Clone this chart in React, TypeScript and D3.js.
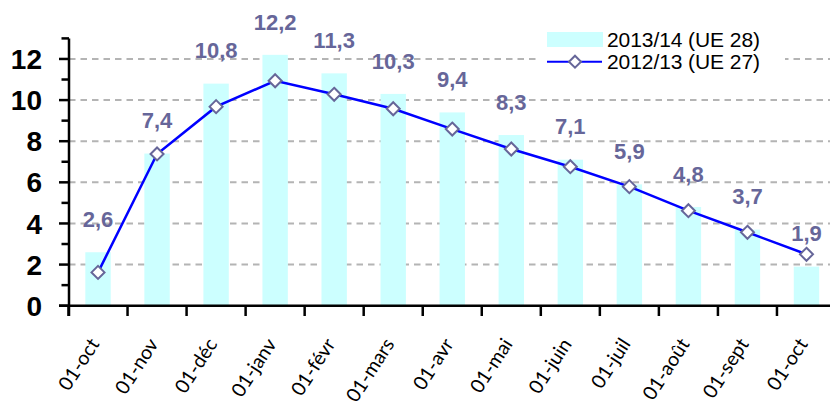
import * as d3 from 'd3';

const W = 830;
const H = 405;

const months = ['01-oct', '01-nov', '01-déc', '01-janv', '01-févr', '01-mars', '01-avr', '01-mai', '01-juin', '01-juil', '01-août', '01-sept', '01-oct'];
const season1314 = [2.6, 7.4, 10.8, 12.2, 11.3, 10.3, 9.4, 8.3, 7.1, 5.9, 4.8, 3.7, 1.9];
const season1213 = [1.62, 7.38, 9.68, 10.94, 10.28, 9.58, 8.59, 7.62, 6.76, 5.79, 4.62, 3.57, 2.5];
const yTicks = [0, 2, 4, 6, 8, 10, 12];
const yMinor = [1, 3, 5, 7, 9, 11, 13];
const seriesNames = ['2013/14 (UE 28)', '2012/13 (UE 27)'];

const BAR = '#ccffff';
const LINE = '#0000ff';
const MARK = '#666699';
const GRID = '#b4b4b4';
const FONT = 'Arial, "Liberation Sans", sans-serif';

const diamond = (cx: number, cy: number, r: number) =>
  `M${cx},${cy - r}L${cx + r},${cy}L${cx},${cy + r}L${cx - r},${cy}Z`;

export default function App() {
  const idx = months.map((_, i) => i);
  const x = d3.scaleBand<number>().domain(idx).range([68.5, 836]).padding(0);
  const y = d3.scaleLinear().domain([0, 13]).range([305.7, 38.4]);
  const cx = (i: number) => (x(i) as number) + x.bandwidth() / 2;
  const barW = x.bandwidth() * 0.43;

  const line = d3.line<number>()
    .x((_, i) => cx(i))
    .y(d => y(d));

  const fmt = (v: number) => v.toFixed(1).replace('.', ',');

  return (
    <div style={{ position: 'fixed', left: 0, top: 0 }}>
      <svg width={W} height={H} style={{ display: 'block', background: '#fff' }}>
        {/* gridlines */}
        {yTicks.filter(t => t > 0).map(t => (
          <line key={'g' + t} x1={69} x2={W} y1={y(t)} y2={y(t)}
            stroke={GRID} strokeWidth={2} strokeDasharray="6.5,5" />
        ))}

        {/* bars */}
        {season1314.map((v, i) => (
          <rect key={'b' + i} x={cx(i) - barW / 2} y={y(v)} width={barW}
            height={y(0) - y(v)} fill={BAR} />
        ))}

        {/* legend box */}
        <rect x={540} y={25} width={245} height={50} fill="#fff" />
        <rect x={547} y={32} width={56} height={15} fill={BAR} />
        <text x={607} y={39.5} dy="0.35em" fontFamily={FONT} fontSize={21}
          textLength={153} lengthAdjust="spacing">{seriesNames[0]}</text>
        <line x1={547} x2={602} y1={61.7} y2={61.7} stroke={LINE} strokeWidth={2} />
        <path d={diamond(575, 61.7, 6)} fill="#fff" stroke={MARK} strokeWidth={2} />
        <text x={607} y={61.7} dy="0.35em" fontFamily={FONT} fontSize={21}
          textLength={153} lengthAdjust="spacing">{seriesNames[1]}</text>

        {/* line series */}
        <path d={line(season1213) || ''} fill="none" stroke={LINE} strokeWidth={2.5} />
        {season1213.map((v, i) => (
          <path key={'m' + i} d={diamond(cx(i), y(v), 6.5)} fill="#fff" stroke={MARK} strokeWidth={2} />
        ))}

        {/* value labels */}
        {season1314.map((v, i) => (
          <text key={'v' + i} x={cx(i)} y={y(v) - 33} dy="0.35em" textAnchor="middle"
            fontFamily={FONT} fontWeight="bold" fontSize={22} fill={MARK}>{fmt(v)}</text>
        ))}

        {/* y axis */}
        <line x1={69} x2={69} y1={y(13)} y2={316} stroke="#000" strokeWidth={2.5} />
        {yTicks.map(t => (
          <g key={'y' + t}>
            <line x1={59} x2={69} y1={y(t)} y2={y(t)} stroke="#000" strokeWidth={2.5} />
            <text x={42} y={y(t)} dy="0.36em" textAnchor="end" fontFamily={FONT}
              fontWeight="bold" fontSize={28}>{t}</text>
          </g>
        ))}
        {yMinor.map(t => (
          <line key={'ym' + t} x1={61.5} x2={69} y1={y(t)} y2={y(t)} stroke="#000" strokeWidth={2.5} />
        ))}

        {/* x axis */}
        <line x1={59} x2={W} y1={y(0)} y2={y(0)} stroke="#000" strokeWidth={2.5} />
        {idx.map(i => (
          <line key={'xt' + i} x1={x(i) as number} x2={x(i) as number} y1={y(0)} y2={316}
            stroke="#000" strokeWidth={2.5} />
        ))}
        {months.map((m, i) => (
          <text key={'xl' + i} transform={`translate(${cx(i) + 2},344) rotate(-57)`}
            textAnchor="end" fontFamily='Lato, "Open Sans", sans-serif' fontSize={19.5}>{m}</text>
        ))}
      </svg>
    </div>
  );
}
